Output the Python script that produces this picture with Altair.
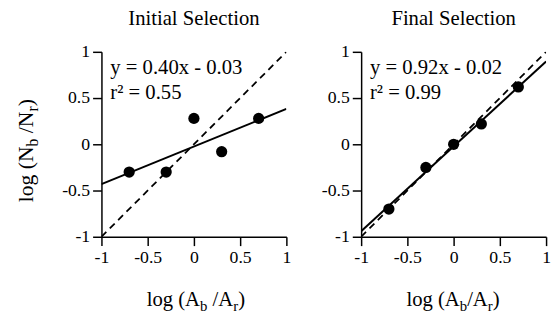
import altair as alt
import pandas as pd

# ---- data ----
x_vals = [-0.7, -0.3, 0.0, 0.3, 0.7]
initial_y = [-0.30, -0.30, 0.28, -0.08, 0.28]
final_y = [-0.70, -0.25, 0.00, 0.22, 0.62]
identity_vals = [-1.0, 1.0]
panel_titles = ["Initial Selection", "Final Selection"]
equations = ["y = 0.40x - 0.03", "y = 0.92x - 0.02"]
r_squared = ["r\u00b2 = 0.55", "r\u00b2 = 0.99"]
tick_values = [-1, -0.5, 0, 0.5, 1]

FONT = "Liberation Serif"
W, H = 188, 188
MAIN, SUB = 21, 15

# approximate Times advance widths (em) for laying out sub-scripted titles
ADV = {'l': 0.278, 'o': 0.5, 'g': 0.5, ' ': 0.25, '(': 0.333, ')': 0.333,
       'A': 0.722, 'N': 0.722, 'b': 0.5, 'r': 0.333, '/': 0.278}


def text_width(s, size):
    return sum(ADV.get(c, 0.5) for c in s) * size


def text_layer(txt, x, y, size, angle=0, align="left", baseline="alphabetic"):
    kw = dict(font=FONT, fontSize=size, color="black", align=align, baseline=baseline)
    if angle:
        kw["angle"] = angle
    return alt.Chart(pd.DataFrame({"t": [txt]})).mark_text(**kw).encode(
        text="t:N", x=alt.value(x), y=alt.value(y))


def sub_title(parts, start, base, main, sub, vertical=False):
    """parts: (text, is_subscript, gap_before_in_em)"""
    layers = []
    off = 0.0
    for txt, is_sub, gap in parts:
        size = sub if is_sub else main
        shift = 5 if is_sub else 0
        off += gap * main
        if vertical:
            layers.append(text_layer(txt, base + shift, start - off, size, angle=270))
        else:
            layers.append(text_layer(txt, start + off, base + shift, size))
        off += text_width(txt, size)
    return layers


scale = alt.Scale(domain=[-1, 1], nice=False, zero=False)
axis_common = dict(values=tick_values, labelExpr="'' + datum.value", title=None, grid=False,
                   labelFont=FONT, labelFontSize=18, labelColor="black",
                   domainColor="black", tickColor="black", tickSize=9, tickWidth=1.5,
                   domainWidth=1.5, labelPadding=3)
xaxis = alt.Axis(labelFlush=False, **axis_common)
yaxis = alt.Axis(**axis_common)


def panel(y_vals, title, eq, r2, xparts, with_ytitle):
    df = pd.DataFrame({"x": x_vals, "y": y_vals})
    ident = pd.DataFrame({"x": identity_vals, "y": identity_vals})
    X = alt.X("x:Q", scale=scale, axis=xaxis)
    Y = alt.Y("y:Q", scale=scale, axis=yaxis)
    dashed = alt.Chart(ident).mark_line(color="black", strokeDash=[7, 5], strokeWidth=1.8,
                                        clip=True).encode(X, Y)
    fit = alt.Chart(df).transform_regression("x", "y", extent=[-1, 1]).mark_line(
        color="black", strokeWidth=2, clip=True).encode(X, Y)
    pts = alt.Chart(df).mark_circle(size=130, color="black", opacity=1).encode(X, Y)
    layers = [dashed, fit, pts,
              text_layer(title, W / 2, -27, MAIN, align="center"),
              text_layer(eq, 9, 23, MAIN),
              text_layer(r2, 9, 48, MAIN)]
    layers += sub_title(xparts, 46, 258, 21, 15)
    if with_ytitle:
        layers += sub_title([("log (N", False, 0), ("b", True, 0), ("/N", False, 0.25),
                             ("r", True, 0), (")", False, 0)],
                            153, -70, 22, 16, vertical=True)
    return alt.layer(*layers).properties(width=W, height=H)


left = panel(initial_y, panel_titles[0], equations[0], r_squared[0],
             [("log (A", False, 0), ("b", True, 0), ("/A", False, 0.25), ("r", True, 0), (")", False, 0)],
             True)
right = panel(final_y, panel_titles[1], equations[1], r_squared[1],
              [("log (A", False, 0), ("b", True, 0), ("/A", False, 0), ("r", True, 0), (")", False, 0)],
              False)

chart = alt.hconcat(left, right, spacing=76, bounds="flush").configure(
    padding={"left": 7, "top": -2, "right": 0, "bottom": 0}
).configure_view(stroke=None)

chart.save("out.html", embed_options={"renderer": "svg", "actions": False})
